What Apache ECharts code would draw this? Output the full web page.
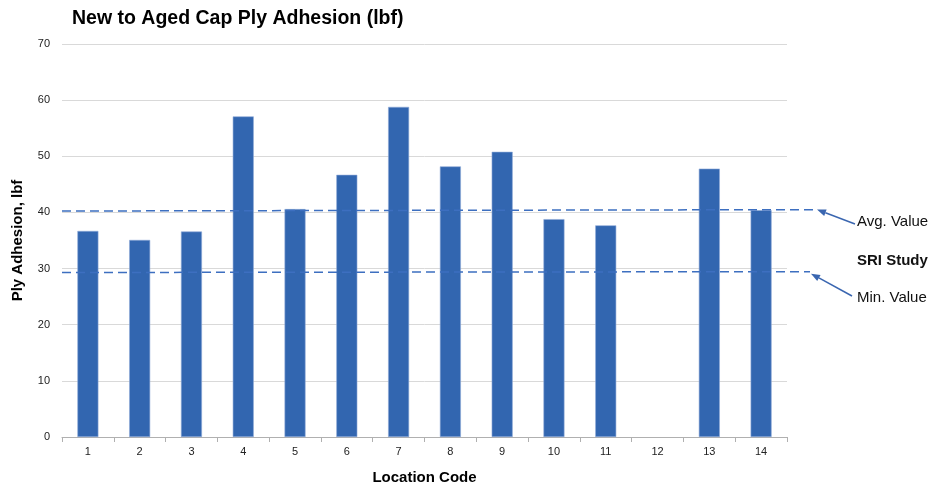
<!DOCTYPE html>
<html><head><meta charset="utf-8">
<script src="https://cdn.jsdelivr.net/npm/echarts@6/dist/echarts.min.js"></script>
<style>html,body{margin:0;padding:0;background:#fff}#c{width:930px;height:487px}</style>
</head><body><div id="c"></div>
<script>
const categories = ['1','2','3','4','5','6','7','8','9','10','11','12','13','14'];
const adhesion = [36.7, 35.1, 36.6, 57.1, 40.6, 46.7, 58.8, 48.2, 50.8, 38.8, 37.7, null, 47.8, 40.4];
const avgLine = [40.25, 40.5];   // start / end of hand-drawn avg line
const minLine = [29.3, 29.45];   // start / end of hand-drawn min line
const yTicks = [0, 10, 20, 30, 40, 50, 60, 70];
const annotations = ['Avg. Value', 'SRI Study', 'Min. Value'];

const chart = echarts.init(document.getElementById('c'));
const font = 'Liberation Sans, Arial, sans-serif';
chart.setOption({
  animation: false,
  title: { text: 'New to Aged Cap Ply Adhesion (lbf)', left: 67, top: 4,
    textStyle: { fontFamily: font, fontSize: 19.5, fontWeight: 'bold', color: '#000' } },
  grid: { left: 62, right: 143, top: 44, bottom: 50, outerBoundsMode: 'none', containLabel: false },
  xAxis: { type: 'category', data: categories,
    name: 'Location Code', nameLocation: 'middle', nameGap: 33,
    nameTextStyle: { fontFamily: font, fontSize: 15, fontWeight: 'bold', color: '#000' },
    axisLine: { lineStyle: { color: '#b0b0b0' } },
    axisTick: { show: true, length: 5, lineStyle: { color: '#b0b0b0' } },
    axisLabel: { fontFamily: font, fontSize: 11, color: '#222', margin: 9 } },
  yAxis: { type: 'value', min: yTicks[0], max: yTicks[yTicks.length-1], interval: 10,
    name: 'Ply Adhesion, lbf', nameLocation: 'middle', nameGap: 37,
    nameTextStyle: { fontFamily: font, fontSize: 15, fontWeight: 'bold', color: '#000' },
    axisLine: { show: false }, axisTick: { show: false },
    splitLine: { lineStyle: { color: '#d9d9d9', width: 1 } },
    axisLabel: { fontFamily: font, fontSize: 11, color: '#222', margin: 12 } },
  series: [{ type: 'bar', data: adhesion, barWidth: 21,
    itemStyle: { color: '#3266b0', borderColor: '#8fa9d6', borderWidth: 0.6 } }]
});

const xL = 62, xAvgEnd = 815, xMinEnd = 810;
const yA0 = chart.convertToPixel({yAxisIndex: 0}, avgLine[0]);
const yA1 = chart.convertToPixel({yAxisIndex: 0}, avgLine[1]);
const yM0 = chart.convertToPixel({yAxisIndex: 0}, minLine[0]);
const yM1 = chart.convertToPixel({yAxisIndex: 0}, minLine[1]);
const lc = '#3d6fc0';
function arrow(x1, y1, x2, y2) {
  const a = Math.atan2(y2 - y1, x2 - x1), L = 9, W = 3.5;
  const bx = x2 - L * Math.cos(a), by = y2 - L * Math.sin(a);
  const px = -Math.sin(a) * W, py = Math.cos(a) * W;
  return [
    { type: 'line', shape: { x1, y1, x2: bx, y2: by }, style: { stroke: '#3a66b0', lineWidth: 1.5 } },
    { type: 'polygon', shape: { points: [[x2, y2], [bx + px, by + py], [bx - px, by - py]] }, style: { fill: '#3a66b0' } }
  ];
}
const tf = { fontFamily: font, fontSize: 15, fill: '#111' };
chart.setOption({ graphic: [
  { type: 'line', shape: { x1: xL, y1: yA0, x2: xAvgEnd, y2: yA1 },
    style: { stroke: lc, lineWidth: 1.5, lineDash: [9, 5] }, z: 10 },
  { type: 'line', shape: { x1: xL, y1: yM0, x2: xMinEnd, y2: yM1 },
    style: { stroke: lc, lineWidth: 1.5, lineDash: [9, 5] }, z: 10 },
  ...arrow(855, 224, xAvgEnd + 2, yA1),
  ...arrow(852, 296, xMinEnd + 1, yM1 + 2),
  { type: 'text', left: 857, top: 214, style: Object.assign({ text: annotations[0] }, tf) },
  { type: 'text', left: 857, top: 253, style: Object.assign({ text: annotations[1], fontWeight: 'bold' }, tf) },
  { type: 'text', left: 857, top: 290, style: Object.assign({ text: annotations[2] }, tf) }
]});
</script></body></html>
